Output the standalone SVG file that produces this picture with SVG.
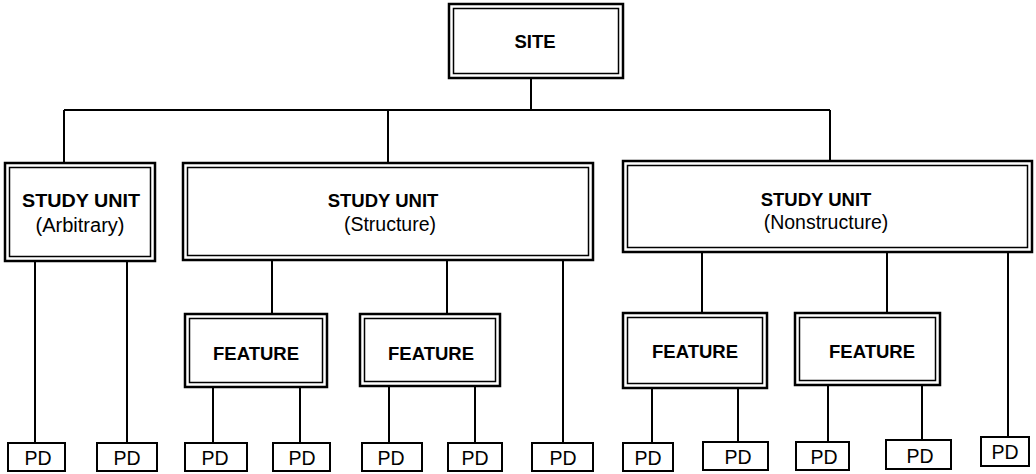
<svg xmlns="http://www.w3.org/2000/svg" width="1036" height="474" viewBox="0 0 1036 474">
<style>
.o{fill:#fff;stroke:#000;stroke-width:2.5}
.i{fill:none;stroke:#000;stroke-width:1.5}
.pd{fill:#fff;stroke:#000;stroke-width:2}
.c{stroke:#000;stroke-width:2;fill:none}
text{font-family:"Liberation Sans",Arial,sans-serif;fill:#000;text-anchor:middle}
.b{font-weight:bold;font-size:18.5px}
.r{font-size:19.5px}
</style>
<rect width="1036" height="474" fill="#fff"/>
<g id="connectors" class="c">
<path d="M531 78V110M64 110H830M64 110V163M388 110V163M830 110V161"/>
<path d="M35 261V443M127 261V443"/>
<path d="M272 260V314M447 260V314M563 260V443"/>
<path d="M702 252V313M887 252V313M1008 252V437"/>
<path d="M213 387V443M300 387V443M389 386V443M475 386V443"/>
<path d="M652 388V443M738 388V442M828 385V442M922 385V440"/>
</g>
<g id="site"><rect class="o" x="449" y="4" width="174" height="74"/><rect class="i" x="453.5" y="8.5" width="165" height="65"/><text class="b" x="535" y="48" font-size="19">SITE</text></g>
<g id="su-arbitrary"><rect class="o" x="5" y="163" width="150" height="98"/><rect class="i" x="9.5" y="167.5" width="141" height="89"/><text class="b" x="81" y="207" textLength="118" lengthAdjust="spacingAndGlyphs">STUDY UNIT</text><text class="r" x="80" y="232" textLength="89" lengthAdjust="spacingAndGlyphs">(Arbitrary)</text></g>
<g id="su-structure"><rect class="o" x="183" y="163" width="410" height="97"/><rect class="i" x="187.5" y="167.5" width="401" height="88"/><text class="b" x="383" y="207">STUDY UNIT</text><text class="r" x="390" y="231">(Structure)</text></g>
<g id="su-nonstructure"><rect class="o" x="623" y="161" width="409" height="91"/><rect class="i" x="627.5" y="165.5" width="400" height="82"/><text class="b" x="816" y="206">STUDY UNIT</text><text class="r" x="826" y="229">(Nonstructure)</text></g>
<g id="feature1"><rect class="o" x="185" y="314" width="142" height="73"/><rect class="i" x="189.5" y="318.5" width="133" height="64"/><text class="b" x="256" y="360">FEATURE</text></g>
<g id="feature2"><rect class="o" x="360" y="314" width="140" height="72"/><rect class="i" x="364.5" y="318.5" width="131" height="63"/><text class="b" x="431" y="360">FEATURE</text></g>
<g id="feature3"><rect class="o" x="623" y="313" width="144" height="75"/><rect class="i" x="627.5" y="317.5" width="135" height="66"/><text class="b" x="695" y="358">FEATURE</text></g>
<g id="feature4"><rect class="o" x="795" y="313" width="145" height="72"/><rect class="i" x="799.5" y="317.5" width="136" height="63"/><text class="b" x="872" y="358">FEATURE</text></g>
<g id="pd1"><rect class="pd" x="8" y="443" width="57" height="28"/><text class="r" x="38" y="465">PD</text></g>
<g id="pd2"><rect class="pd" x="97" y="443" width="60" height="28"/><text class="r" x="127" y="465">PD</text></g>
<g id="pd3"><rect class="pd" x="185" y="443" width="62" height="28"/><text class="r" x="215" y="465">PD</text></g>
<g id="pd4"><rect class="pd" x="273" y="443" width="57" height="28"/><text class="r" x="302" y="465">PD</text></g>
<g id="pd5"><rect class="pd" x="362" y="443" width="60" height="28"/><text class="r" x="391" y="465">PD</text></g>
<g id="pd6"><rect class="pd" x="448" y="443" width="54" height="28"/><text class="r" x="475" y="465">PD</text></g>
<g id="pd7"><rect class="pd" x="532" y="443" width="61" height="28"/><text class="r" x="563" y="465">PD</text></g>
<g id="pd8"><rect class="pd" x="623" y="443" width="50" height="28"/><text class="r" x="648" y="465">PD</text></g>
<g id="pd9"><rect class="pd" x="703" y="442" width="65" height="28"/><text class="r" x="738" y="464">PD</text></g>
<g id="pd10"><rect class="pd" x="796" y="442" width="53" height="28"/><text class="r" x="824" y="464">PD</text></g>
<g id="pd11"><rect class="pd" x="886" y="440" width="65" height="29"/><text class="r" x="920" y="463">PD</text></g>
<g id="pd12"><rect class="pd" x="981" y="437" width="48" height="29"/><text class="r" x="1005" y="459">PD</text></g>
</svg>
